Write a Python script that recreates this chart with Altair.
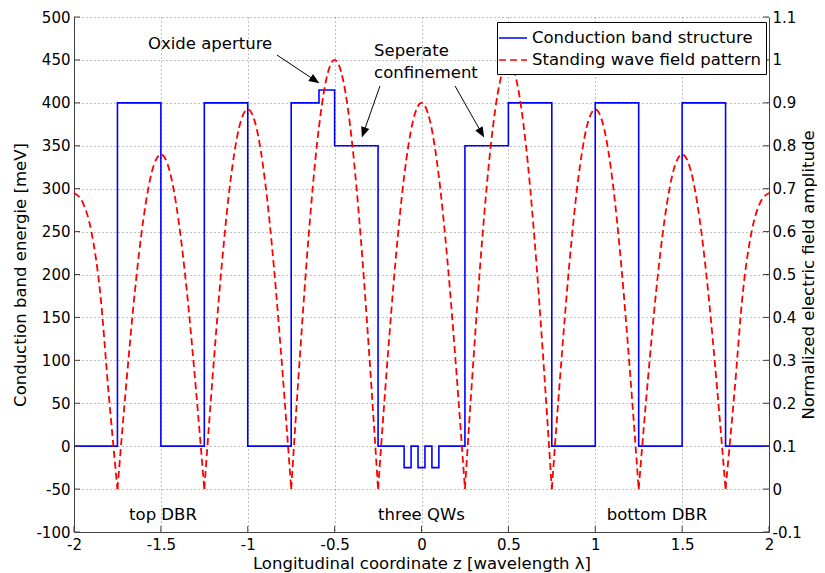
import altair as alt
import pandas as pd

FONT = "DejaVu Sans"
W, H = 695, 515

series_names = ["Conduction band structure", "Standing wave field pattern"]

# Conduction band structure (step profile), meV
band_z = [-2.0, -1.75, -1.5, -1.25, -1.0, -0.75, -0.59, -0.5, -0.25, -0.1, -0.06, -0.02,
          0.02, 0.06, 0.1, 0.25, 0.5, 0.75, 1.0, 1.25, 1.5, 1.75, 2.0]
band_e = [0, 400, 0, 400, 0, 400, 415, 350, 0, -25, 0, -25,
          0, -25, 0, 350, 400, 0, 400, 0, 400, 0, 0]

# Standing wave field pattern (normalized amplitude), one list per arch
wave_z = [
    [-2.0, -1.95, -1.9, -1.85, -1.8, -1.75],
    [-1.75, -1.7, -1.65, -1.6, -1.55, -1.5, -1.45, -1.4, -1.35, -1.3, -1.25],
    [-1.25, -1.2, -1.15, -1.1, -1.05, -1.0, -0.95, -0.9, -0.85, -0.8, -0.75],
    [-0.75, -0.7, -0.65, -0.6, -0.55, -0.5, -0.45, -0.4, -0.35, -0.3, -0.25],
    [-0.25, -0.2, -0.15, -0.1, -0.05, 0.0, 0.05, 0.1, 0.15, 0.2, 0.25],
    [0.25, 0.3, 0.35, 0.4, 0.45, 0.5, 0.55, 0.6, 0.65, 0.7, 0.75],
    [0.75, 0.8, 0.85, 0.9, 0.95, 1.0, 1.05, 1.1, 1.15, 1.2, 1.25],
    [1.25, 1.3, 1.35, 1.4, 1.45, 1.5, 1.55, 1.6, 1.65, 1.7, 1.75],
    [1.75, 1.8, 1.85, 1.9, 1.95, 2.0],
]
wave_amp = [
    [0.69, 0.668, 0.6, 0.46, 0.22, 0.0],
    [0.0, 0.241, 0.459, 0.631, 0.742, 0.78, 0.742, 0.631, 0.459, 0.241, 0.0],
    [0.0, 0.273, 0.52, 0.716, 0.842, 0.885, 0.842, 0.716, 0.52, 0.273, 0.0],
    [0.0, 0.309, 0.588, 0.809, 0.951, 1.0, 0.951, 0.809, 0.588, 0.309, 0.0],
    [0.0, 0.278, 0.529, 0.728, 0.856, 0.9, 0.856, 0.728, 0.529, 0.278, 0.0],
    [0.0, 0.308, 0.585, 0.805, 0.946, 0.995, 0.946, 0.805, 0.585, 0.308, 0.0],
    [0.0, 0.273, 0.52, 0.716, 0.842, 0.885, 0.842, 0.716, 0.52, 0.273, 0.0],
    [0.0, 0.241, 0.459, 0.631, 0.742, 0.78, 0.742, 0.631, 0.459, 0.241, 0.0],
    [0.0, 0.22, 0.46, 0.6, 0.668, 0.69],
]

x_ticks = [-2, -1.5, -1, -0.5, 0, 0.5, 1, 1.5, 2]
left_ticks = [-100, -50, 0, 50, 100, 150, 200, 250, 300, 350, 400, 450, 500]
right_ticks = [-0.1, 0, 0.1, 0.2, 0.3, 0.4, 0.5, 0.6, 0.7, 0.8, 0.9, 1, 1.1]

# Annotations (data coordinates on the left axis)
note_text = ["Oxide aperture", "Seperate", "confinement", "top DBR", "three QWs", "bottom DBR"]
note_z = [-1.574, -0.273, -0.273, -1.488, 0.0, 1.355]
note_e = [468.5, 460.4, 434.8, -80.0, -80.0, -80.0]
note_align = ["left", "left", "left", "center", "center", "center"]

arrow_z0 = [-0.832, -0.239, 0.193]
arrow_e0 = [455.7, 419.6, 419.6]
arrow_z1 = [-0.619, -0.331, 0.342]
arrow_e1 = [427.0, 366.8, 366.3]
arrow_angle = [123.5, 199.4, 150.4]

# ---------------------------------------------------------------- data frames
band_df = pd.DataFrame({"z": band_z, "E": band_e, "series": series_names[0]})
rows = []
for i, (zs, amps) in enumerate(zip(wave_z, wave_amp)):
    for z, a in zip(zs, amps):
        rows.append({"z": z, "A": a, "arch": i, "series": series_names[1]})
wave_df = pd.DataFrame(rows)
note_df = pd.DataFrame({"text": note_text, "z": note_z, "E": note_e, "align": note_align})
arrow_df = pd.DataFrame({"z0": arrow_z0, "e0": arrow_e0, "z1": arrow_z1, "e1": arrow_e1,
                         "angle": arrow_angle})
ltick_df = pd.DataFrame({"v": left_ticks})
xtick_df = pd.DataFrame({"v": x_ticks})

# ---------------------------------------------------------------- scales / axes
xscale = alt.Scale(domain=[-2, 2], nice=False, zero=False)
yl_scale = alt.Scale(domain=[-100, 500], nice=False, zero=False)
yr_scale = alt.Scale(domain=[-0.1, 1.1], nice=False, zero=False)
color_scale = alt.Scale(domain=series_names, range=["#0000ff", "#ff0000"])
dash_scale = alt.Scale(domain=series_names, range=[[1, 0], [7, 4]])

leg = alt.Legend(title=None, orient="none", legendX=423, legendY=5,
                 symbolType="M-1.4,0L1.4,0", symbolSize=400, symbolStrokeWidth=1.5,
                 symbolFillColor="transparent",
                 labelFontSize=16.5, labelFont=FONT, labelColor="black",
                 padding=5, strokeColor="black", fillColor="white",
                 rowPadding=2, labelOffset=8, labelLimit=0)

grid_kw = dict(grid=True, gridDash=[1, 3], gridColor="#808080", gridWidth=1)

x_axis = alt.Axis(values=x_ticks, labelExpr="'' + datum.value", labelFlush=False,
                  title="Longitudinal coordinate z [wavelength λ]",
                  ticks=False, domainColor="#404040", labelPadding=5,
                  titleY=23, titleBaseline="top", titleFontSize=16.5, **grid_kw)
yl_axis = alt.Axis(values=left_ticks, labelExpr="'' + datum.value", labelFlush=False,
                   title="Conduction band energie [meV]",
                   ticks=False, domainColor="#404040", labelPadding=4,
                   titleX=-46, titleY=H / 2, titleFontSize=16.5, **grid_kw)
yr_axis = alt.Axis(orient="right", values=right_ticks, labelExpr="'' + datum.value",
                   labelFlush=False,
                   title="Normalized electric field amplitude", titleAngle=270,
                   titleBaseline="top", titleX=31, titleY=H / 2, titleFontSize=16.5,
                   grid=False, ticks=False, domainColor="#404040", labelPadding=3)

X = alt.X("z:Q", scale=xscale, axis=x_axis)

blue = alt.Chart(band_df).mark_line(interpolate="step-after", strokeWidth=1.6).encode(
    x=X,
    y=alt.Y("E:Q", scale=yl_scale, axis=yl_axis),
    color=alt.Color("series:N", scale=color_scale, legend=leg),
    strokeDash=alt.StrokeDash("series:N", scale=dash_scale, legend=leg),
)

lticks = alt.Chart(ltick_df).mark_rule(color="#404040", strokeWidth=1).encode(
    y=alt.Y("v:Q", scale=yl_scale, axis=yl_axis), x=alt.value(0), x2=alt.value(6))
rticks = alt.Chart(ltick_df).mark_rule(color="#404040", strokeWidth=1).encode(
    y=alt.Y("v:Q", scale=yl_scale, axis=yl_axis), x=alt.value(W - 6), x2=alt.value(W))
bticks = alt.Chart(xtick_df).mark_rule(color="#404040", strokeWidth=1).encode(
    x=alt.X("v:Q", scale=xscale, axis=x_axis), y=alt.value(H - 6), y2=alt.value(H))

notes_left = alt.Chart(note_df).transform_filter("datum.align == 'left'").mark_text(
    font=FONT, fontSize=16.5, color="black", align="left", baseline="middle").encode(
    x=X, y=alt.Y("E:Q", scale=yl_scale, axis=yl_axis), text="text:N")
notes_center = alt.Chart(note_df).transform_filter("datum.align == 'center'").mark_text(
    font=FONT, fontSize=16.5, color="black", align="center", baseline="middle").encode(
    x=X, y=alt.Y("E:Q", scale=yl_scale, axis=yl_axis), text="text:N")

shafts = alt.Chart(arrow_df).mark_rule(color="black", strokeWidth=1).encode(
    x=alt.X("z0:Q", scale=xscale, axis=x_axis), x2="z1:Q",
    y=alt.Y("e0:Q", scale=yl_scale, axis=yl_axis), y2="e1:Q")
heads = alt.Chart(arrow_df).mark_point(
    shape="M0,-1L0.65,0.6L-0.65,0.6Z", filled=True, color="black", opacity=1, size=170).encode(
    x=alt.X("z1:Q", scale=xscale, axis=x_axis),
    y=alt.Y("e1:Q", scale=yl_scale, axis=yl_axis),
    angle=alt.Angle("angle:Q", scale=None))

left_layer = alt.layer(blue, lticks, rticks, bticks, shafts, heads, notes_left, notes_center)

red = alt.Chart(wave_df).mark_line(interpolate="monotone", strokeWidth=1.8).encode(
    x=X,
    y=alt.Y("A:Q", scale=yr_scale, axis=yr_axis),
    color=alt.Color("series:N", scale=color_scale, legend=leg),
    strokeDash=alt.StrokeDash("series:N", scale=dash_scale, legend=leg),
    detail="arch:N",
)

chart = alt.layer(left_layer, red).resolve_scale(y="independent").properties(
    width=W, height=H,
    autosize=alt.AutoSizeParams(type="none"),
    padding={"left": 66, "top": 9, "right": 48, "bottom": 41},
).configure_axis(
    labelFont=FONT, titleFont=FONT, labelFontSize=15, titleFontSize=16.5,
    titleFontWeight="normal", labelColor="black", titleColor="black",
).configure_view(stroke=None)

chart.save("out.html", embed_options={"renderer": "svg", "actions": False})
